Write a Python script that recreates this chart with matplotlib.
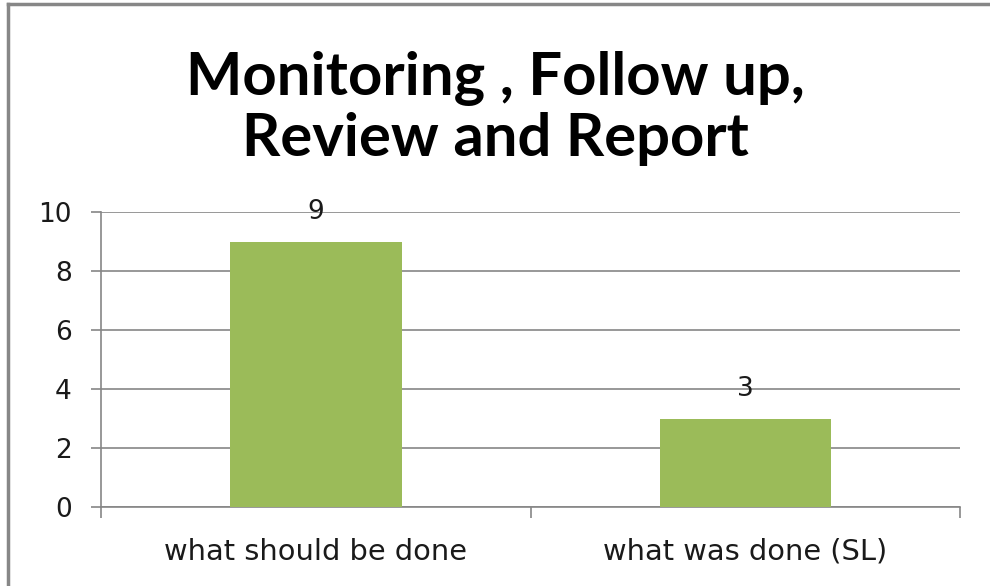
import matplotlib
matplotlib.use("Agg")
import matplotlib.pyplot as plt
from matplotlib.lines import Line2D

categories = ["what should be done", "what was done (SL)"]
values = [9, 3]
yticks = [0, 2, 4, 6, 8, 10]
title = "Monitoring , Follow up,\nReview and Report"

fig = plt.figure(figsize=(9.9, 5.86), dpi=100)
# gray frame (left and top edges visible)
fig.lines.append(Line2D([0.0085, 0.0085], [0, 0.994], transform=fig.transFigure,
                        color="#878787", linewidth=2.5))
fig.lines.append(Line2D([0.0085, 1], [0.994, 0.994], transform=fig.transFigure,
                        color="#878787", linewidth=2.5))

ax = fig.add_axes([0.102, 0.1348, 0.868, 0.5034])
x = range(len(categories))
bars = ax.bar(x, values, width=0.4, color="#9BBB59", zorder=3)
for b, v in zip(bars, values):
    ax.annotate(str(v), (b.get_x() + b.get_width() / 2, v), xytext=(0, 21.6),
                textcoords="offset points", ha="center", va="center",
                fontsize=19, fontfamily="DejaVu Sans", color="#1a1a1a")

ax.set_xlim(-0.5, 1.5)
ax.set_ylim(0, 10)
ax.set_yticks(yticks)
ax.set_yticklabels([str(t) for t in yticks], fontsize=19, fontfamily="DejaVu Sans", color="#1a1a1a")
ax.set_xticks(list(x))
ax.set_xticklabels(categories, fontsize=20.8, fontfamily="DejaVu Sans", color="#1a1a1a")
ax.tick_params(axis="x", length=0, pad=22)
ax.tick_params(axis="y", length=7, width=1.2, color="#868686", pad=14)
# category boundary ticks on the x axis
ax.set_xticks([-0.5, 0.5, 1.5], minor=True)
ax.tick_params(axis="x", which="minor", length=8, width=1.2, color="#868686")

ax.grid(axis="y", color="#868686", linewidth=1.2, zorder=0)
for s in ["top", "right"]:
    ax.spines[s].set_visible(False)
for s in ["left", "bottom"]:
    ax.spines[s].set_color("#868686")
    ax.spines[s].set_linewidth(1.2)

fig.text(0.5, 0.815, title, ha="center", va="center", fontsize=43,
         fontweight="bold", fontfamily="Lato", color="black", linespacing=1.14)

fig.savefig("out.png", dpi=100)
